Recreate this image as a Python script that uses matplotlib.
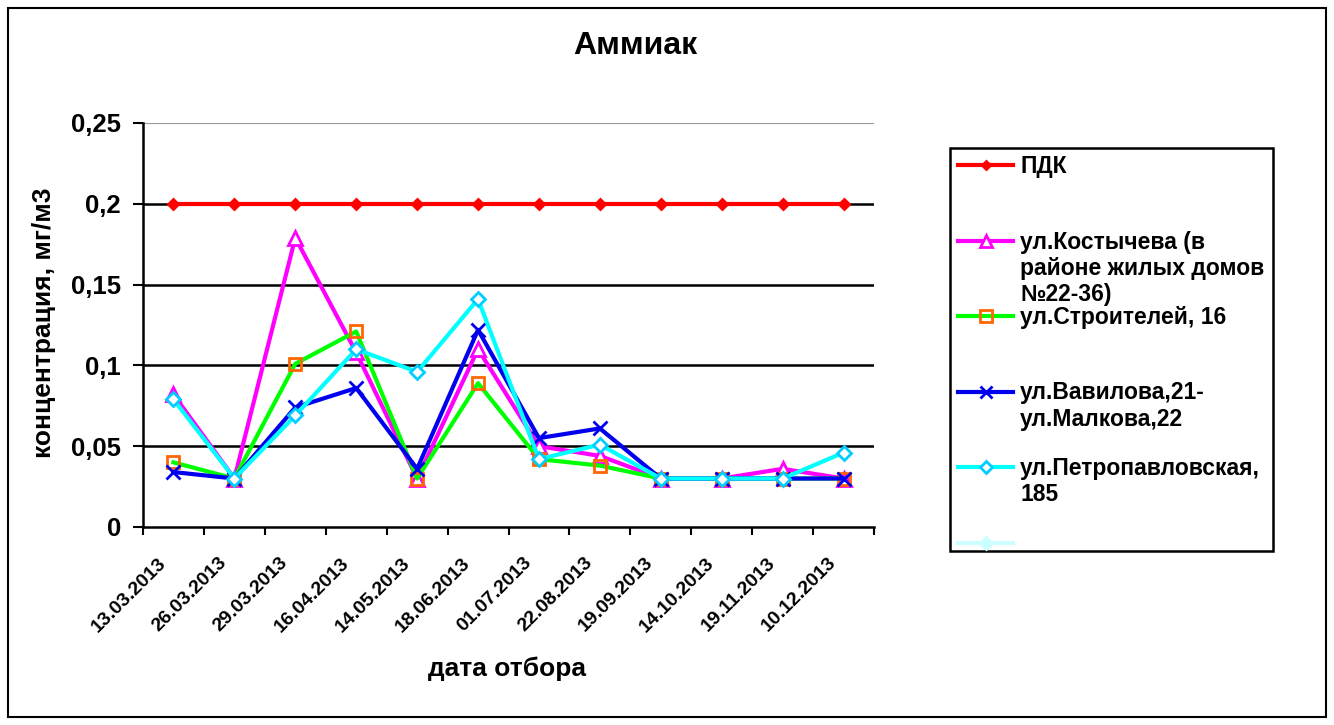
import matplotlib.pyplot as plt
from matplotlib.lines import Line2D
from matplotlib.patches import Rectangle
from matplotlib.ticker import FuncFormatter
from matplotlib.transforms import ScaledTranslation
import numpy as np

plt.rcParams['font.family'] = ['Liberation Sans', 'DejaVu Sans']
plt.rcParams['font.weight'] = 'bold'
plt.rcParams['axes.labelweight'] = 'bold'

dates = ['13.03.2013', '26.03.2013', '29.03.2013', '16.04.2013', '14.05.2013', '18.06.2013',
         '01.07.2013', '22.08.2013', '19.09.2013', '14.10.2013', '19.11.2013', '10.12.2013']

pdk = [0.2] * 12
kostycheva = [0.082, 0.03, 0.179, 0.108, 0.03, 0.11, 0.05, 0.044, 0.03, 0.03, 0.036, 0.03]
stroiteley = [0.04, 0.03, 0.101, 0.121, 0.03, 0.089, 0.042, 0.038, 0.03, 0.03, 0.03, 0.03]
vavilova = [0.034, 0.03, 0.074, 0.086, 0.036, 0.122, 0.055, 0.061, 0.03, 0.03, 0.03, 0.03]
petropavl = [0.079, 0.03, 0.069, 0.11, 0.096, 0.141, 0.042, 0.051, 0.03, 0.03, 0.03, 0.046]

labels = ['ПДК',
          'ул.Костычева (в\nрайоне жилых домов\n№22-36)',
          'ул.Строителей, 16',
          'ул.Вавилова,21-\nул.Малкова,22',
          'ул.Петропавловская,\n185',
          '']

# line colour, marker, marker size, marker edge, marker face
styles = [
    ('#FF0000', 'D', 5, '#FF0000', '#FF0000'),
    ('#FF00FF', '^', 10, '#FF00FF', 'white'),
    ('#00FF00', 's', 9, '#FF6600', 'none'),
    ('#0000EE', 'x', 10, '#0000EE', '#0000EE'),
    ('#00FFFF', 'D', 7, '#00CCFF', 'white'),
    ('#CCFFFF', 'D', 7, '#CCFFFF', '#CCFFFF'),
]

series = [pdk, kostycheva, stroiteley, vavilova, petropavl]

fig = plt.figure(figsize=(13.34, 7.25), dpi=100)
fig.patches.append(Rectangle((8 / 1334, 8 / 725), 1318 / 1334, 709 / 725, transform=fig.transFigure,
                             fill=False, edgecolor='black', linewidth=1.5))

ax = fig.add_axes([143 / 1334, 1 - 527 / 725, 731 / 1334, 404 / 725])
x = np.arange(len(dates))

for vals, (c, m, ms, mec, mfc) in zip(series, styles):
    ax.plot(x, vals, color=c, lw=3, marker=m, ms=ms, mec=mec, mfc=mfc, mew=2, zorder=3)

for yv in [0.05, 0.1, 0.15, 0.2]:
    ax.axhline(yv, color='black', lw=1.8, zorder=1)
ax.axhline(0.25, color='#999999', lw=0.8, zorder=1)

ax.set_xlim(-0.5, len(dates) - 0.5)
ax.set_ylim(0, 0.25)
ax.set_yticks([0, 0.05, 0.1, 0.15, 0.2, 0.25])
ax.yaxis.set_major_formatter(FuncFormatter(lambda v, p: ('%g' % round(v, 2)).replace('.', ',')))
ax.tick_params(axis='y', labelsize=18.5, width=1.5, length=7, pad=9, direction='out')

ax.set_xticks(x)
ax.set_xticklabels(dates, rotation=45, ha='right', va='center', rotation_mode='anchor', fontsize=14)
ax.set_xticks(np.arange(-0.5, len(dates)), minor=True)
ax.tick_params(axis='x', which='major', length=0, pad=24)
ax.tick_params(axis='x', which='minor', length=6, width=1.5)
shift = ScaledTranslation(-10 / 100, 0, fig.dpi_scale_trans)
for lbl in ax.get_xticklabels():
    lbl.set_transform(lbl.get_transform() + shift)

for s in ['top', 'right']:
    ax.spines[s].set_visible(False)
for s in ['left', 'bottom']:
    ax.spines[s].set_linewidth(1.8)

ax.set_ylabel('концентрация, мг/м3', fontsize=19)
ax.yaxis.set_label_coords((56 - 143) / 731, (527 - 323) / 404)
ax.set_xlabel('дата отбора', fontsize=19)
ax.xaxis.set_label_coords((507 - 143) / 731, -(657 - 527) / 404)
fig.text(635 / 1334, 1 - 46 / 725, 'Аммиак', ha='center', va='center', fontsize=23, fontweight='bold')

# legend drawn by hand to keep the Excel-like layout
fig.patches.append(Rectangle((950 / 1334, 1 - 551 / 725), 323 / 1334, 403 / 725, transform=fig.transFigure,
                             fill=False, edgecolor='black', linewidth=1.8))
for i, (lab, (c, m, ms, mec, mfc)) in enumerate(zip(labels, styles)):
    yy = 1 - (165 + i * 75.5) / 725
    fig.lines.append(Line2D([958 / 1334, 1013 / 1334], [yy, yy], transform=fig.transFigure,
                            color=c, lw=3))
    fig.lines.append(Line2D([985.5 / 1334], [yy], transform=fig.transFigure, color=c, marker=m,
                            ms=ms * 0.9, mec=mec, mfc=mfc, mew=2))
    fig.text(1020 / 1334, yy + 10 / 725, lab, ha='left', va='top', fontsize=16.5, fontweight='bold',
             linespacing=1.17)

fig.savefig('out.png', dpi=100)
